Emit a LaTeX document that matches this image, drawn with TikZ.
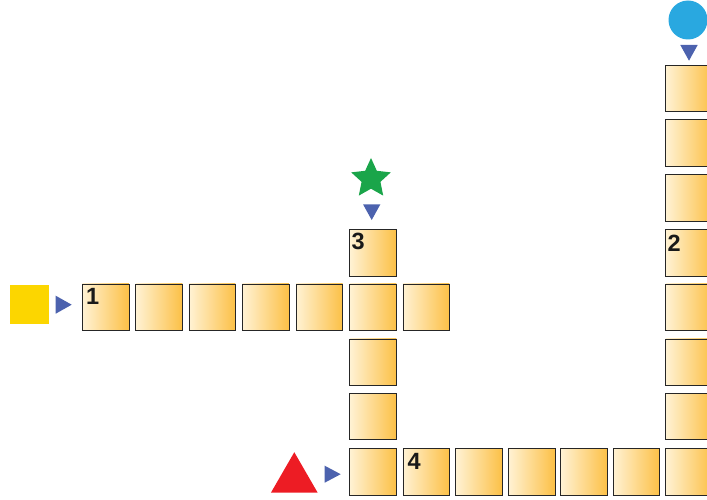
\documentclass[tikz,border=0pt]{standalone}
\usepackage{fontspec}
\setmainfont{Liberation Sans}
\usepackage{xcolor}
\usepackage{tikz}
\usetikzlibrary{shapes.geometric, positioning}

\definecolor{cellleft}{RGB}{255,242,212}
\definecolor{cellright}{RGB}{252,192,70}
\definecolor{pointerblue}{RGB}{76,98,174}
\definecolor{markyellow}{RGB}{252,214,0}
\definecolor{markgreen}{RGB}{26,165,74}
\definecolor{markred}{RGB}{237,28,36}
\definecolor{markcyan}{RGB}{41,168,224}

\begin{document}
\begin{tikzpicture}[
    x=1pt, y=1pt,
    % Styles
    cell/.style={rectangle, draw=black!85, line width=0.9pt, left color=cellleft, right color=cellright, minimum size=46.5pt, inner sep=0pt, anchor=north west},
    num/.style={font=\fontsize{23.5}{23.5}\selectfont\bfseries, text=black!90, anchor=north west, inner sep=0pt},
    pointer/.style={fill=pointerblue},
    yellowbox/.style={rectangle, fill=markyellow, minimum size=39pt, inner sep=0pt},
    greenstar/.style={star, star points=5, star point ratio=2.1, fill=markgreen, minimum size=41.6pt, inner sep=0pt},
    redtri/.style={regular polygon, regular polygon sides=3, fill=markred, minimum size=54pt, inner sep=0pt},
    bluedot/.style={circle, fill=markcyan, minimum size=39pt, inner sep=0pt}
]
\useasboundingbox (0,0) rectangle (707,499);
\clip (0,0) rectangle (707,499);

% --- Across 1 ---
\foreach \x [count=\i] in {82,135.3,188.5,242,295.6,349.3,402.5}
    \node[cell] (one\i) at (\x,215.5) {};

% --- Down 3 (crosses 1 at one6, meets 4 at four1) ---
\foreach \y [count=\i] in {270,160.5,106.3}
    \node[cell] (three\i) at (349.3,\y) {};

% --- Across 4 ---
\foreach \x [count=\i] in {349.3,402.5,455.3,508,560.3,612.7}
    \node[cell] (four\i) at (\x,51) {};

% --- Down 2 (ends in the corner of 4) ---
\foreach \y [count=\i] in {434,379.5,325,270,215.5,160.5,106.3,51}
    \node[cell] (two\i) at (665.3,\y) {};

% Numbers
\node[num] (n1) at ([shift={(4,-4.5)}]one1.north west) {1};
\node[num] (n2) at ([shift={(2,-5.5)}]two4.north west) {2};
\node[num] (n3) at ([shift={(2,-3.5)}]three1.north west) {3};
\node[num] (n4) at ([shift={(5,-5.5)}]four2.north west) {4};

% --- Start marks ---
\node[yellowbox] (sq) at (29.5,194.5) {};
\node[greenstar] (star) at (371,320.2) {};
\node[redtri] (tri) at (294.3,19.8) {};
\node[bluedot] (dot) at (688,479) {};

% Pointers into the first cells
\coordinate (p1) at ([shift={(-10.3,2.5)}]one1.west);
\coordinate (p2) at ([yshift=4.3]two1.north);
\coordinate (p3) at ([shift={(-1.3,9)}]three1.north);
\coordinate (p4) at ([shift={(-8.6,-2.5)}]four1.west);
\fill[pointer] (p1) -- ++(-16,9) -- ++(0,-18) -- cycle;
\fill[pointer] (p2) -- ++(-8.7,15.7) -- ++(17.4,0) -- cycle;
\fill[pointer] (p3) -- ++(-8.7,15.7) -- ++(17.4,0) -- cycle;
\fill[pointer] (p4) -- ++(-16,8.5) -- ++(0,-17) -- cycle;

\end{tikzpicture}
\end{document}
